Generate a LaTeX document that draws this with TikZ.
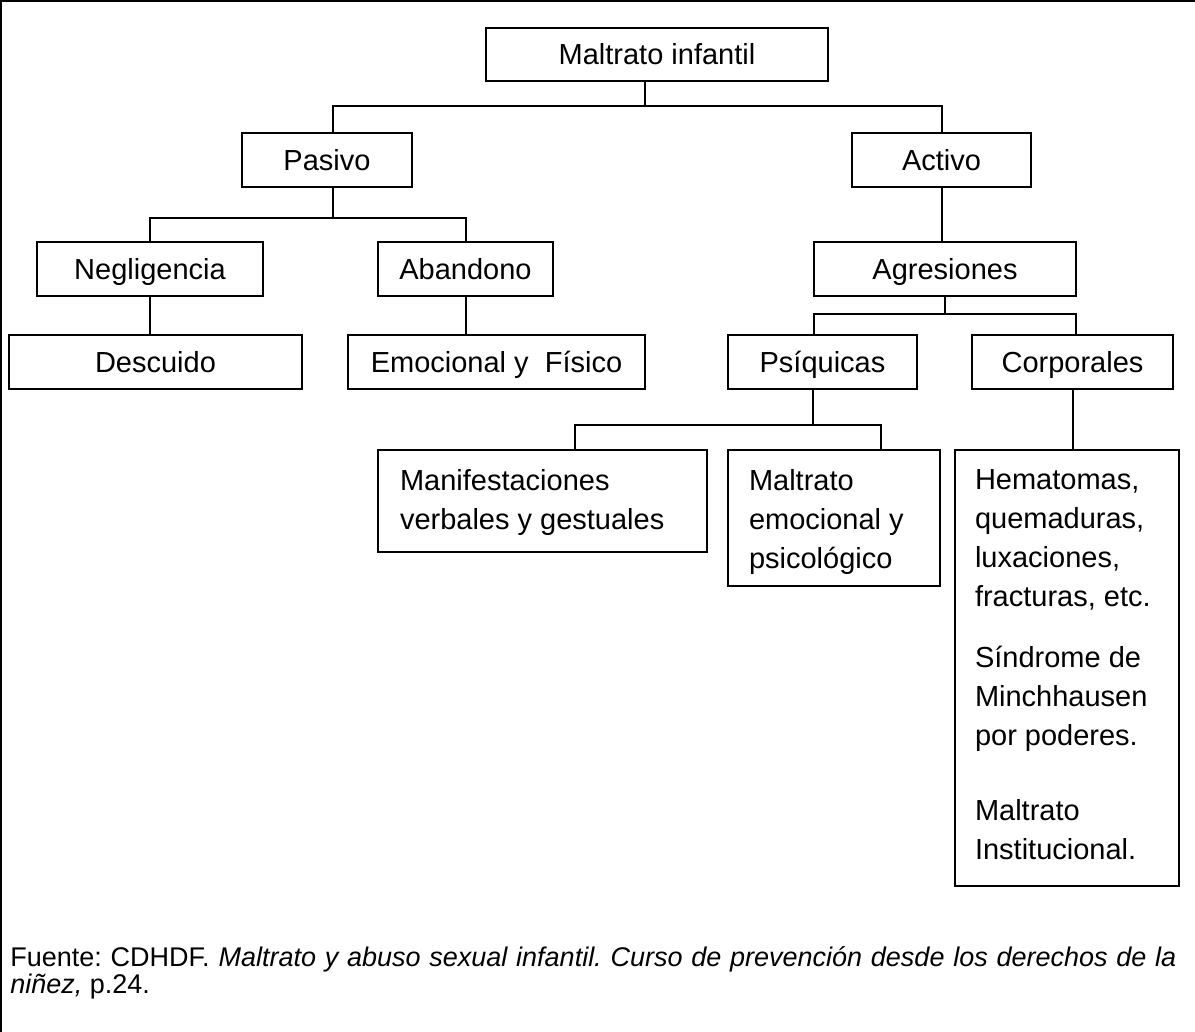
\documentclass[tikz,border=0pt]{standalone}
\usepackage{fontspec}
\setmainfont{Liberation Sans}
\frenchspacing

\tikzset{
	caja/.style={draw, line width=1pt, inner sep=0pt, minimum height=27pt, text height=10.4pt, text depth=0pt, font=\fontsize{14.5}{19.5}\selectfont},
	bloque/.style={draw, line width=1pt, inner ysep=0pt, font=\fontsize{14.5}{19.5}\selectfont},
	rama/.style={line width=1pt}
}

\begin{document}
\begin{tikzpicture}[x=0.5pt, y=-0.5pt]
	\useasboundingbox (0,0) rectangle (1195,1032);
	\draw[line width=1pt] (1,1032) -- (1,1) -- (1195,1);

	\node[caja, minimum width=171pt, minimum height=26.5pt] (raiz) at (657,54.5) {Maltrato infantil};

	\node[caja, minimum width=85pt] (pasivo) at (327,160) {Pasivo};
	\node[caja, minimum width=89.5pt] (activo) at (941.5,160) {Activo};

	\node[caja, minimum width=113pt] (negligencia) at (150,269) {Negligencia};
	\node[caja, minimum width=87.5pt] (abandono) at (465.5,269) {Abandono};
	\node[caja, minimum width=131pt] (agresiones) at (945,269) {Agresiones};

	\node[caja, minimum width=146.5pt] (descuido) at (155.5,362) {Descuido};
	\node[caja, minimum width=148.5pt] (emocional) at (496.5,362) {Emocional y \ Físico};
	\node[caja, minimum width=94.5pt] (psiquicas) at (822.5,362) {Psíquicas};
	\node[caja, minimum width=100.5pt] (corporales) at (1072.5,362) {Corporales};

	\node[bloque, inner xsep=11pt] (manif) at (542.5,501) {\parbox[c][51pt][t]{142.5pt}{\vspace*{9.5pt}Manifestaciones\\ verbales y gestuales}};
	\node[bloque, inner xsep=10.5pt] (maltemo) at (834,518) {\parbox[c][68pt][t]{85pt}{\vspace*{9.5pt}Maltrato\\ emocional y\\ psicológico}};
	\node[bloque, inner xsep=10pt] (lesiones) at (1067,667.5) {\parbox[c][218pt][t]{92pt}{\vspace*{10pt}Hematomas,\\ quemaduras,\\ luxaciones,\\ fracturas, etc.\\[11pt] Síndrome de\\ Minchhausen\\ por poderes.\\[18pt] Maltrato\\ Institucional.}};

	\draw[rama] ([xshift=-6pt]raiz.south) -- ++(0,24) coordinate (b0);
	\draw[rama] ([xshift=3pt]pasivo.north) |- (b0) -| (activo.north);

	\draw[rama] ([xshift=3pt]pasivo.south) -- ++(0,30) coordinate (b1);
	\draw[rama] (negligencia.north) |- (b1) -| (abandono.north);
	\draw[rama] (negligencia.south) -- (negligencia.south |- descuido.north);
	\draw[rama] (abandono.south) -- (abandono.south |- emocional.north);

	\draw[rama] (activo.south) -- (activo.south |- agresiones.north);
	\draw[rama] (agresiones.south) -- ++(0,17) coordinate (b2);
	\draw[rama] ([xshift=-4.25pt]psiquicas.north) |- (b2) -| ([xshift=1.75pt]corporales.north);

	\draw[rama] ([xshift=-4.75pt]psiquicas.south) -- ++(0,35) coordinate (b3);
	\draw[rama] ([xshift=16.25pt]manif.north) |- (b3) -| ([xshift=23.5pt]maltemo.north);
	\draw[rama] (corporales.south) -- (corporales.south |- lesiones.north);

	\node[anchor=base west, text width=583pt, align=justify, inner sep=0pt, font=\fontsize{13.5}{12.5}\selectfont] (fuente) at (10,966) {Fuente: CDHDF. \textit{Maltrato y abuso sexual infantil. Curso de prevención desde los derechos de la\linebreak niñez,} p.24.};
\end{tikzpicture}
\end{document}
